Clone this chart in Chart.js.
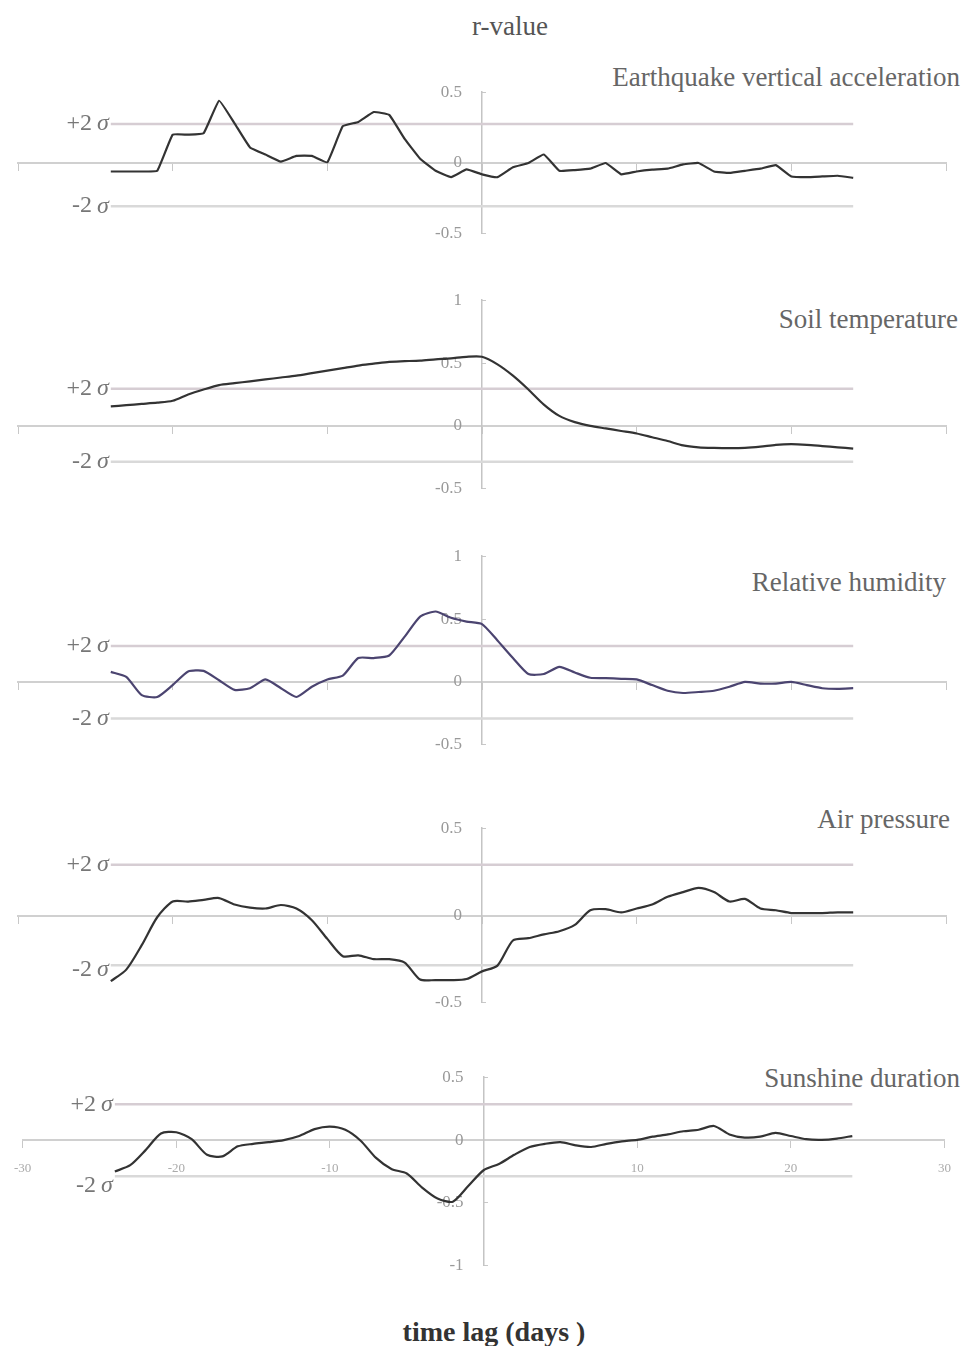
<!DOCTYPE html>
<html>
<head>
<meta charset="utf-8">
<script src="https://cdn.jsdelivr.net/npm/chart.js@4.4.1/dist/chart.umd.min.js"></script>
<style>
body { margin: 0; background: #fff; width: 965px; height: 1346px; position: relative; overflow: hidden; font-family: 'Liberation Serif', serif; }
.panel { position: absolute; left: 0; width: 965px; }
.txt { position: absolute; white-space: nowrap; color: #666; line-height: 1; }
</style>
</head>
<body>
<div class="txt" style="left:0;width:1020px;text-align:center;top:13px;font-size:27px;color:#555">r-value</div>
<div class="txt" style="right:5px;top:64px;font-size:27px">Earthquake vertical acceleration</div>
<div class="txt" style="right:7px;top:306px;font-size:27px">Soil temperature</div>
<div class="txt" style="right:19px;top:569px;font-size:27px">Relative humidity</div>
<div class="txt" style="right:15px;top:806px;font-size:27px">Air pressure</div>
<div class="txt" style="right:5px;top:1065px;font-size:27px">Sunshine duration</div>
<div class="txt" style="left:0;width:988px;text-align:center;top:1318px;font-size:28px;font-weight:bold;color:#333">time lag (days )</div>

<div class="panel" id="p1"><canvas id="chart-1"></canvas></div>
<div class="panel" id="p2"><canvas id="chart-2"></canvas></div>
<div class="panel" id="p3"><canvas id="chart-3"></canvas></div>
<div class="panel" id="p4"><canvas id="chart-4"></canvas></div>
<div class="panel" id="p5"><canvas id="chart-5"></canvas></div>

<script>
// time lag in days
const lags = [-24, -23, -22, -21, -20, -19, -18, -17, -16, -15, -14, -13, -12, -11, -10, -9, -8, -7, -6, -5, -4, -3, -2, -1,
    0, 1, 2, 3, 4, 5, 6, 7, 8, 9, 10, 11, 12, 13, 14, 15, 16, 17, 18, 19, 20, 21, 22, 23, 24];

// r-values per series
const quakeAccel = [-0.06, -0.06, -0.06, -0.055, 0.2, 0.2, 0.21, 0.44, 0.28, 0.11, 0.06, 0.01, 0.05, 0.05, 0.005, 0.26, 0.29, 0.36, 0.34, 0.17, 0.03, -0.055, -0.1, -0.045,
    -0.08, -0.1, -0.03, 0, 0.06, -0.055, -0.05, -0.04, 0, -0.08, -0.06, -0.047, -0.04, -0.01, 0, -0.06, -0.07, -0.055, -0.04, -0.015, -0.095, -0.1, -0.095, -0.09, -0.105];
const soilTemp = [0.155, 0.165, 0.175, 0.185, 0.2, 0.25, 0.29, 0.325, 0.34, 0.355, 0.37, 0.385, 0.4, 0.42, 0.44, 0.46, 0.48, 0.495, 0.51, 0.515, 0.52, 0.53, 0.538, 0.55,
    0.55, 0.49, 0.4, 0.29, 0.17, 0.08, 0.03, 0, -0.02, -0.04, -0.06, -0.09, -0.12, -0.155, -0.17, -0.175, -0.177, -0.175, -0.165, -0.15, -0.145, -0.15, -0.16, -0.17, -0.18];
const humidity = [0.08, 0.04, -0.105, -0.12, -0.025, 0.083, 0.088, 0.013, -0.063, -0.05, 0.02, -0.05, -0.12, -0.038, 0.02, 0.05, 0.19, 0.19, 0.21, 0.36, 0.52, 0.56, 0.51, 0.48,
    0.46, 0.33, 0.19, 0.063, 0.063, 0.12, 0.075, 0.033, 0.03, 0.025, 0.02, -0.025, -0.07, -0.088, -0.08, -0.07, -0.038, 0, -0.013, -0.013, 0, -0.025, -0.05, -0.055, -0.05];
const airPressure = [-0.376, -0.31, -0.17, -0.01, 0.08, 0.08, 0.09, 0.1, 0.063, 0.045, 0.04, 0.06, 0.04, -0.027, -0.134, -0.233, -0.228, -0.25, -0.25, -0.27, -0.367, -0.37, -0.37, -0.364,
    -0.32, -0.287, -0.143, -0.13, -0.108, -0.09, -0.054, 0.03, 0.036, 0.018, 0.04, 0.063, 0.107, 0.134, 0.158, 0.134, 0.08, 0.095, 0.04, 0.03, 0.014, 0.014, 0.014, 0.018, 0.018];
const sunshine = [-0.25, -0.2, -0.08, 0.052, 0.062, 0.007, -0.117, -0.13, -0.05, -0.03, -0.017, 0, 0.032, 0.087, 0.107, 0.082, -0.005, -0.142, -0.23, -0.266, -0.378, -0.465, -0.49, -0.366,
    -0.24, -0.19, -0.117, -0.055, -0.03, -0.017, -0.042, -0.055, -0.03, -0.01, 0.002, 0.027, 0.045, 0.07, 0.082, 0.112, 0.045, 0.02, 0.027, 0.057, 0.032, 0.007, 0.002, 0.012, 0.032];

// +2 sigma / -2 sigma levels per panel
const sigmaUp = [0.275, 0.295, 0.285, 0.29, 0.285];
const sigmaDown = [-0.305, -0.285, -0.29, -0.285, -0.288];

// y ranges per panel
const yMin = [-0.5, -0.5, -0.5, -0.5, -1];
const yMax = [0.5, 1, 1, 0.5, 0.5];

// panel placement (plot top / bottom in px)
const panels = [
    { el: 'p1', id: 'chart-1', data: quakeAccel, top: 87, bottom: 239, color: '#333', tension: 0.1 },
    { el: 'p2', id: 'chart-2', data: soilTemp, top: 295, bottom: 494, color: '#333', tension: 0.25 },
    { el: 'p3', id: 'chart-3', data: humidity, top: 551, bottom: 750, color: '#4b4470', tension: 0.2 },
    { el: 'p4', id: 'chart-4', data: airPressure, top: 823, bottom: 1008, color: '#333', tension: 0.25, downShift: 4 },
    { el: 'p5', id: 'chart-5', data: sunshine, top: 1072, bottom: 1271, color: '#333', tension: 0.25, xLabels: true, downShift: 9 }
];

const PAD = 30;

const sigmaLabels = {
    id: 'sigmaLabels',
    afterDatasetsDraw(chart, args, opts) {
        const { ctx, scales: { x, y } } = chart;
        const x0 = x.getPixelForValue(lags[0]) - 2;
        ctx.save();
        ctx.fillStyle = '#777';
        ctx.textBaseline = 'middle';
        [['+2', opts.up, 0], ['-2', opts.down, opts.downShift || 0]].forEach(([s, v, dy]) => {
            const py = y.getPixelForValue(v) + dy;
            ctx.textAlign = 'right';
            ctx.font = 'italic 24px "Liberation Serif"';
            ctx.fillText('σ', x0, py);
            const w = ctx.measureText('σ').width;
            ctx.font = '24px "Liberation Serif"';
            ctx.fillText(s, x0 - w - 5, py);
        });
        ctx.restore();
    }
};

panels.forEach((p, i) => {
    const box = document.getElementById(p.el);
    box.style.top = (p.top - PAD) + 'px';
    box.style.height = (p.bottom - p.top + 2 * PAD) + 'px';
    const first = lags[0], last = lags[lags.length - 1];

    new Chart(document.getElementById(p.id), {
        type: 'line',
        data: {
            datasets: [{
                data: lags.map((l, k) => ({ x: l, y: p.data[k] })),
                borderColor: p.color,
                borderWidth: 2.2,
                pointRadius: 0,
                tension: p.tension
            }, {
                data: [{ x: first, y: sigmaUp[i] }, { x: last, y: sigmaUp[i] }],
                borderColor: '#d6cdd3',
                borderWidth: 2.5,
                pointRadius: 0
            }, {
                data: [{ x: first, y: sigmaDown[i] }, { x: last, y: sigmaDown[i] }],
                borderColor: '#d9d9d9',
                borderWidth: 2.5,
                pointRadius: 0
            }]
        },
        options: {
            responsive: true,
            maintainAspectRatio: false,
            animation: false,
            layout: { padding: { left: 18, right: 19, top: PAD, bottom: PAD } },
            scales: {
                x: {
                    type: 'linear',
                    position: { y: 0 },
                    min: -30,
                    max: 30,
                    grid: { drawOnChartArea: false, color: '#c8c8c8', tickLength: 7 },
                    border: { color: '#d0d0d0', width: 2 },
                    ticks: {
                        stepSize: 10,
                        display: !!p.xLabels,
                        maxRotation: 0,
                        padding: 14,
                        color: '#aaa',
                        font: { family: 'Liberation Serif', size: 13 },
                        callback: v => v === 0 ? '' : v
                    }
                },
                y: {
                    position: 'center',
                    min: yMin[i],
                    max: yMax[i],
                    grid: { drawOnChartArea: false, color: '#c8c8c8', tickLength: -5 },
                    border: { color: '#c4c4c4', width: 1.5 },
                    ticks: {
                        stepSize: 0.5,
                        padding: 25,
                        color: '#999',
                        font: { family: 'Liberation Serif', size: 17 },
                        callback: v => String(v)
                    }
                }
            },
            plugins: {
                legend: { display: false },
                tooltip: { enabled: false },
                sigmaLabels: { up: sigmaUp[i], down: sigmaDown[i], downShift: p.downShift }
            }
        },
        plugins: [sigmaLabels]
    });
});
</script>
</body>
</html>
